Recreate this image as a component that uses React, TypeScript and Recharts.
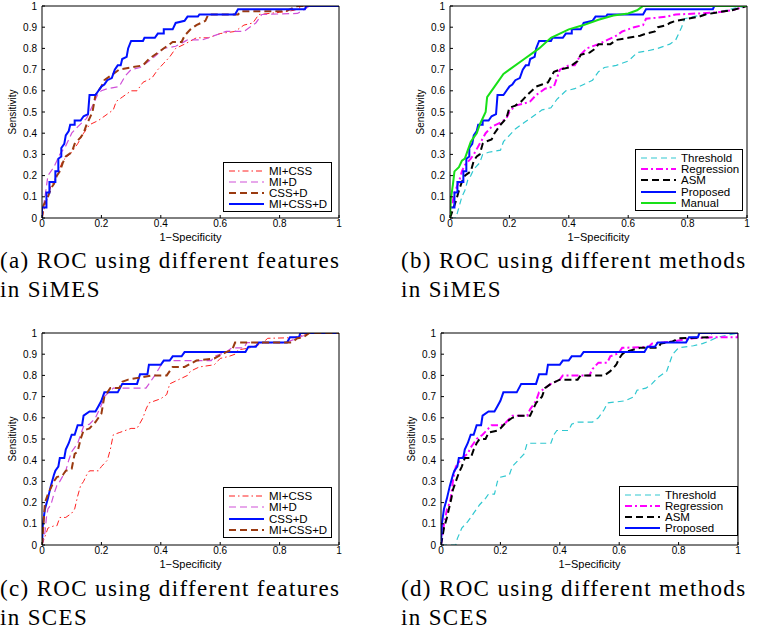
import { LineChart, Line, XAxis, YAxis, Legend } from 'recharts';

// ROC curves, as [1-specificity, sensitivity] vertices
const xTicks = [0, 0.2, 0.4, 0.6, 0.8, 1];
const yTicks = [0, 0.1, 0.2, 0.3, 0.4, 0.5, 0.6, 0.7, 0.8, 0.9, 1];

// (a) / (b) SiMES
const simesProposed = [[0,0],[0,0.05],[0.015,0.05],[0.015,0.12],[0.025,0.12],[0.025,0.17],[0.045,0.17],[0.045,0.22],[0.055,0.22],[0.055,0.28],[0.065,0.29],[0.065,0.33],[0.075,0.35],[0.08,0.39],[0.09,0.41],[0.095,0.44],[0.11,0.44],[0.11,0.46],[0.13,0.46],[0.14,0.48],[0.155,0.49],[0.16,0.58],[0.18,0.58],[0.19,0.6],[0.2,0.62],[0.21,0.63],[0.22,0.65],[0.235,0.66],[0.245,0.7],[0.255,0.72],[0.265,0.72],[0.27,0.75],[0.285,0.76],[0.29,0.8],[0.3,0.835],[0.34,0.835],[0.345,0.85],[0.38,0.85],[0.39,0.87],[0.41,0.87],[0.41,0.89],[0.44,0.89],[0.45,0.92],[0.48,0.93],[0.49,0.95],[0.525,0.95],[0.53,0.96],[0.65,0.96],[0.66,0.985],[0.885,0.985],[0.89,1],[1,1]];
const simesCssD = [[0,0],[0.005,0.06],[0.02,0.1],[0.03,0.14],[0.04,0.16],[0.05,0.2],[0.06,0.22],[0.07,0.26],[0.08,0.29],[0.1,0.31],[0.11,0.35],[0.13,0.38],[0.14,0.4],[0.15,0.44],[0.17,0.5],[0.18,0.58],[0.2,0.62],[0.21,0.65],[0.23,0.67],[0.26,0.7],[0.3,0.71],[0.34,0.72],[0.36,0.75],[0.4,0.79],[0.44,0.83],[0.47,0.83],[0.48,0.86],[0.5,0.89],[0.52,0.91],[0.55,0.93],[0.56,0.96],[0.66,0.96],[0.67,0.975],[0.82,0.975],[0.86,1],[1,1]];
const simesMiD = [[0,0],[0.01,0.1],[0.02,0.2],[0.04,0.24],[0.05,0.27],[0.06,0.3],[0.08,0.34],[0.1,0.4],[0.12,0.43],[0.15,0.47],[0.17,0.53],[0.19,0.59],[0.2,0.6],[0.22,0.61],[0.26,0.62],[0.28,0.67],[0.3,0.7],[0.33,0.71],[0.37,0.75],[0.41,0.8],[0.45,0.81],[0.49,0.84],[0.54,0.84],[0.58,0.86],[0.62,0.88],[0.68,0.88],[0.72,0.92],[0.74,0.96],[0.86,0.965],[0.88,0.98],[0.9,1],[1,1]];
const simesMiCss = [[0,0],[0.01,0.06],[0.02,0.1],[0.03,0.15],[0.05,0.2],[0.07,0.27],[0.1,0.31],[0.12,0.35],[0.14,0.4],[0.16,0.44],[0.19,0.46],[0.22,0.49],[0.24,0.51],[0.25,0.55],[0.27,0.57],[0.3,0.6],[0.32,0.6],[0.34,0.64],[0.37,0.66],[0.39,0.7],[0.41,0.73],[0.43,0.76],[0.45,0.8],[0.48,0.82],[0.52,0.85],[0.56,0.85],[0.6,0.87],[0.65,0.88],[0.68,0.91],[0.71,0.92],[0.73,0.96],[0.8,0.97],[0.85,0.98],[0.88,1],[1,1]];
const simesManual = [[0,0],[0.003,0.09],[0.01,0.16],[0.015,0.22],[0.03,0.24],[0.04,0.27],[0.05,0.28],[0.06,0.32],[0.07,0.36],[0.08,0.38],[0.09,0.4],[0.1,0.44],[0.12,0.5],[0.125,0.57],[0.15,0.62],[0.18,0.68],[0.2,0.7],[0.25,0.75],[0.28,0.78],[0.3,0.8],[0.34,0.85],[0.4,0.89],[0.45,0.91],[0.5,0.935],[0.55,0.955],[0.6,0.965],[0.63,0.98],[0.64,0.99],[0.65,1],[1,1]];
const simesRegression = [[0,0],[0.005,0.05],[0.015,0.12],[0.03,0.17],[0.04,0.22],[0.05,0.25],[0.07,0.28],[0.08,0.3],[0.1,0.35],[0.12,0.4],[0.14,0.43],[0.17,0.45],[0.19,0.47],[0.2,0.5],[0.22,0.53],[0.25,0.54],[0.27,0.55],[0.29,0.58],[0.32,0.61],[0.35,0.62],[0.36,0.66],[0.37,0.7],[0.4,0.72],[0.42,0.72],[0.44,0.77],[0.46,0.8],[0.5,0.82],[0.53,0.84],[0.56,0.86],[0.58,0.88],[0.62,0.9],[0.65,0.91],[0.66,0.94],[0.7,0.945],[0.73,0.95],[0.76,0.96],[0.84,0.965],[0.9,0.97],[0.95,0.98],[1,1]];
const simesAsm = [[0,0],[0.01,0.04],[0.02,0.08],[0.03,0.13],[0.04,0.17],[0.05,0.2],[0.07,0.22],[0.08,0.27],[0.09,0.29],[0.1,0.3],[0.11,0.35],[0.12,0.36],[0.14,0.37],[0.15,0.4],[0.17,0.44],[0.19,0.47],[0.2,0.52],[0.22,0.53],[0.24,0.55],[0.26,0.58],[0.29,0.62],[0.31,0.63],[0.33,0.64],[0.35,0.69],[0.37,0.7],[0.4,0.71],[0.43,0.74],[0.44,0.77],[0.47,0.78],[0.49,0.8],[0.5,0.82],[0.54,0.82],[0.56,0.84],[0.6,0.85],[0.64,0.86],[0.66,0.87],[0.69,0.88],[0.7,0.9],[0.73,0.91],[0.74,0.92],[0.76,0.93],[0.8,0.94],[0.84,0.95],[0.86,0.96],[0.9,0.97],[0.95,0.98],[1,1]];
const simesThreshold = [[0,0],[0.02,0],[0.03,0.05],[0.04,0.1],[0.05,0.13],[0.06,0.18],[0.07,0.2],[0.08,0.23],[0.1,0.26],[0.11,0.3],[0.13,0.31],[0.17,0.32],[0.18,0.36],[0.2,0.39],[0.22,0.42],[0.25,0.45],[0.28,0.48],[0.31,0.51],[0.34,0.52],[0.36,0.56],[0.39,0.6],[0.42,0.61],[0.45,0.63],[0.48,0.65],[0.5,0.69],[0.52,0.71],[0.56,0.72],[0.6,0.74],[0.63,0.78],[0.67,0.79],[0.7,0.8],[0.74,0.82],[0.76,0.84],[0.77,0.87],[0.78,0.9],[0.79,0.94],[0.82,0.95],[0.86,0.96],[0.9,0.97],[0.96,0.99],[1,1]];

// (c) / (d) SCES
const scesProposed = [[0,0],[0.003,0.1],[0.01,0.17],[0.02,0.22],[0.03,0.28],[0.04,0.33],[0.045,0.35],[0.055,0.37],[0.06,0.41],[0.075,0.41],[0.08,0.45],[0.09,0.48],[0.1,0.52],[0.11,0.52],[0.12,0.565],[0.135,0.565],[0.14,0.61],[0.16,0.63],[0.18,0.63],[0.19,0.655],[0.2,0.68],[0.21,0.72],[0.255,0.72],[0.27,0.76],[0.32,0.76],[0.33,0.805],[0.355,0.805],[0.36,0.85],[0.4,0.85],[0.41,0.87],[0.43,0.87],[0.44,0.89],[0.47,0.89],[0.48,0.91],[0.685,0.91],[0.695,0.935],[0.72,0.935],[0.73,0.955],[0.825,0.955],[0.835,0.98],[0.865,0.98],[0.87,1],[1,1]];
const scesMiCssD = [[0,0],[0.005,0.1],[0.01,0.2],[0.02,0.24],[0.03,0.27],[0.04,0.3],[0.05,0.32],[0.07,0.33],[0.08,0.35],[0.1,0.36],[0.11,0.43],[0.12,0.44],[0.13,0.5],[0.14,0.54],[0.16,0.55],[0.18,0.58],[0.19,0.6],[0.2,0.62],[0.21,0.7],[0.23,0.74],[0.26,0.74],[0.27,0.77],[0.29,0.78],[0.33,0.79],[0.37,0.8],[0.42,0.8],[0.44,0.84],[0.48,0.84],[0.52,0.87],[0.58,0.88],[0.62,0.91],[0.64,0.92],[0.65,0.955],[0.84,0.955],[0.86,0.975],[0.88,0.98],[0.9,1],[1,1]];
const scesMiD = [[0,0],[0.01,0.06],[0.015,0.13],[0.02,0.17],[0.03,0.19],[0.04,0.24],[0.05,0.28],[0.06,0.3],[0.08,0.35],[0.09,0.4],[0.1,0.44],[0.12,0.48],[0.13,0.52],[0.14,0.56],[0.16,0.57],[0.18,0.6],[0.2,0.66],[0.21,0.7],[0.24,0.74],[0.35,0.74],[0.38,0.8],[0.41,0.87],[0.57,0.87],[0.58,0.89],[0.62,0.91],[0.64,0.93],[0.68,0.93],[0.69,0.955],[0.82,0.955],[0.86,0.975],[0.9,1],[1,1]];
const scesMiCss = [[0,0],[0.01,0.04],[0.02,0.08],[0.04,0.09],[0.05,0.09],[0.06,0.13],[0.08,0.13],[0.1,0.15],[0.11,0.17],[0.12,0.23],[0.13,0.28],[0.14,0.3],[0.15,0.33],[0.16,0.35],[0.19,0.35],[0.2,0.37],[0.22,0.4],[0.23,0.45],[0.24,0.52],[0.26,0.53],[0.3,0.55],[0.32,0.55],[0.34,0.6],[0.35,0.64],[0.36,0.67],[0.4,0.69],[0.42,0.71],[0.43,0.76],[0.46,0.78],[0.49,0.8],[0.5,0.82],[0.53,0.84],[0.58,0.85],[0.6,0.88],[0.63,0.89],[0.65,0.9],[0.66,0.92],[0.7,0.93],[0.74,0.95],[0.76,0.975],[0.85,0.978],[0.9,1],[1,1]];
const scesRegression = [[0,0],[0.01,0.1],[0.015,0.13],[0.02,0.17],[0.03,0.2],[0.035,0.24],[0.04,0.3],[0.05,0.37],[0.06,0.39],[0.07,0.41],[0.09,0.43],[0.1,0.46],[0.11,0.48],[0.12,0.5],[0.14,0.52],[0.16,0.55],[0.17,0.565],[0.21,0.565],[0.22,0.58],[0.24,0.61],[0.29,0.61],[0.3,0.64],[0.32,0.68],[0.33,0.72],[0.35,0.74],[0.37,0.76],[0.4,0.78],[0.41,0.8],[0.5,0.8],[0.51,0.83],[0.53,0.86],[0.56,0.86],[0.57,0.89],[0.59,0.9],[0.6,0.91],[0.61,0.93],[0.7,0.935],[0.71,0.95],[0.78,0.96],[0.82,0.97],[0.85,0.975],[0.92,0.98],[1,0.98],[1,1]];
const scesAsm = [[0,0],[0.01,0.08],[0.02,0.13],[0.03,0.19],[0.035,0.22],[0.04,0.26],[0.05,0.3],[0.06,0.34],[0.07,0.37],[0.08,0.41],[0.1,0.41],[0.11,0.45],[0.12,0.48],[0.13,0.5],[0.15,0.5],[0.16,0.53],[0.19,0.54],[0.2,0.55],[0.22,0.58],[0.24,0.6],[0.26,0.61],[0.3,0.61],[0.31,0.64],[0.32,0.67],[0.34,0.7],[0.35,0.74],[0.37,0.76],[0.4,0.78],[0.46,0.78],[0.47,0.8],[0.55,0.8],[0.57,0.82],[0.59,0.85],[0.6,0.88],[0.61,0.9],[0.62,0.91],[0.67,0.93],[0.73,0.93],[0.74,0.95],[0.78,0.96],[0.8,0.975],[0.9,0.98],[0.91,1],[1,1]];
const scesThreshold = [[0,0],[0.05,0],[0.055,0.03],[0.07,0.08],[0.09,0.11],[0.11,0.15],[0.13,0.19],[0.15,0.22],[0.16,0.24],[0.18,0.24],[0.19,0.3],[0.2,0.32],[0.23,0.33],[0.24,0.37],[0.26,0.4],[0.28,0.43],[0.29,0.48],[0.37,0.48],[0.38,0.52],[0.39,0.54],[0.43,0.54],[0.44,0.57],[0.46,0.58],[0.51,0.58],[0.53,0.6],[0.55,0.64],[0.56,0.67],[0.62,0.68],[0.65,0.7],[0.66,0.73],[0.69,0.74],[0.71,0.76],[0.73,0.79],[0.76,0.82],[0.77,0.86],[0.78,0.9],[0.8,0.93],[0.85,0.94],[0.88,0.95],[0.9,0.96],[0.93,0.98],[1,1]];

interface Series {
  name: string;
  pts: number[][];
  color: string;
  width: number;
  dash?: string;
}

const FONT = '"Liberation Sans", Arial, Helvetica, sans-serif';
const SERIF = '"Liberation Serif", "Times New Roman", serif';

const panelA: Series[] = [
  { name: 'MI+CSS', pts: simesMiCss, color: '#ff2020', width: 1, dash: '6 3 1.5 3' },
  { name: 'MI+D', pts: simesMiD, color: '#d050d8', width: 1.2, dash: '7 4' },
  { name: 'CSS+D', pts: simesCssD, color: '#9a3a10', width: 2, dash: '7 4' },
  { name: 'MI+CSS+D', pts: simesProposed, color: '#0010ff', width: 2 },
];
const panelB: Series[] = [
  { name: 'Threshold', pts: simesThreshold, color: '#30c8d0', width: 1.2, dash: '6 4' },
  { name: 'Regression', pts: simesRegression, color: '#ff00ff', width: 2, dash: '7 3 2 3' },
  { name: 'ASM', pts: simesAsm, color: '#000000', width: 2, dash: '7 4' },
  { name: 'Proposed', pts: simesProposed, color: '#0010ff', width: 2 },
  { name: 'Manual', pts: simesManual, color: '#18e018', width: 2 },
];
const panelC: Series[] = [
  { name: 'MI+CSS', pts: scesMiCss, color: '#ff2020', width: 1, dash: '6 3 1.5 3' },
  { name: 'MI+D', pts: scesMiD, color: '#d050d8', width: 1.2, dash: '7 4' },
  { name: 'CSS+D', pts: scesProposed, color: '#0010ff', width: 2 },
  { name: 'MI+CSS+D', pts: scesMiCssD, color: '#9a3a10', width: 2, dash: '7 4' },
];
const panelD: Series[] = [
  { name: 'Threshold', pts: scesThreshold, color: '#30c8d0', width: 1.2, dash: '6 4' },
  { name: 'Regression', pts: scesRegression, color: '#ff00ff', width: 2, dash: '7 3 2 3' },
  { name: 'ASM', pts: scesAsm, color: '#000000', width: 2, dash: '7 4' },
  { name: 'Proposed', pts: scesProposed, color: '#0010ff', width: 2 },
];

const toPts = (a: number[][]) => a.map(([x, y]) => ({ x, y }));

const PW = 297;
const PH = 212;

const RocPanel = ({ left, top, series, legend }: {
  left: number; top: number; series: Series[];
  legend: { x: number; y: number; w: number; h: number };
}) => {
  const renderLegend = () => (
    <div style={{
      width: legend.w, height: legend.h, boxSizing: 'border-box', border: '1px solid #000',
      background: '#fff', paddingTop: 2, fontFamily: FONT, fontSize: 11.5, color: '#000', textAlign: 'left',
    }}>
      {series.map((s) => (
        <div key={s.name} style={{ display: 'flex', alignItems: 'center', height: (legend.h - 5) / series.length, whiteSpace: 'nowrap' }}>
          <svg width={45} height={8} style={{ flex: 'none' }}>
            <line x1={5} y1={4} x2={40} y2={4} stroke={s.color} strokeWidth={s.width} strokeDasharray={s.dash} />
          </svg>
          <span>{s.name}</span>
        </div>
      ))}
    </div>
  );

  return (
    <div style={{ position: 'absolute', left, top }}>
      <LineChart width={42 + PW + 7} height={6 + PH + 28} margin={{ top: 5, right: 6, left: 0, bottom: 0 }}>
        <XAxis
          dataKey="x" type="number" domain={[0, 1]} ticks={xTicks} allowDataOverflow
          height={28} tickSize={-3} tickMargin={5} stroke="#000"
          tick={{ fontSize: 10, fill: '#000', fontFamily: FONT }}
          label={{ value: '1\u2212Specificity', position: 'insideBottom', offset: 5, style: { fontSize: 11, fill: '#000', fontFamily: FONT } }}
        />
        <XAxis xAxisId="top" orientation="top" type="number" domain={[0, 1]} ticks={xTicks} height={1} tickSize={-3} tick={false} stroke="#000" />
        <YAxis
          type="number" domain={[0, 1]} ticks={yTicks} allowDataOverflow
          width={42} tickSize={-3} tickMargin={8} stroke="#000"
          tick={{ fontSize: 10, fill: '#000', fontFamily: FONT }}
          label={{ value: 'Sensitivity', angle: -90, position: 'insideLeft', offset: 12, style: { fontSize: 10, fill: '#000', fontFamily: FONT, textAnchor: 'middle' } }}
        />
        <YAxis yAxisId="right" orientation="right" type="number" domain={[0, 1]} ticks={yTicks} width={1} tickSize={-3} tick={false} stroke="#000" />
        {series.map((s) => (
          <Line
            key={s.name} data={toPts(s.pts)} dataKey="y" name={s.name} type="linear"
            stroke={s.color} strokeWidth={s.width} strokeDasharray={s.dash}
            dot={false} activeDot={false} isAnimationActive={false}
          />
        ))}
        <Legend
          layout="vertical" align="center" verticalAlign="middle" content={renderLegend}
          wrapperStyle={{ left: legend.x, top: legend.y, width: legend.w, height: legend.h }}
        />
      </LineChart>
    </div>
  );
};

const Caption = ({ left, top, lines }: { left: number; top: number; lines: string[] }) => (
  <div style={{
    position: 'absolute', left, top, fontFamily: SERIF, fontSize: 23, lineHeight: '29px',
    letterSpacing: 1.35, color: '#000', whiteSpace: 'nowrap',
  }}>
    {lines.map((l) => <div key={l}>{l}</div>)}
  </div>
);

export default function App() {
  return (
    <div style={{ position: 'absolute', left: 0, top: 0, width: 761, height: 634, background: '#fff', overflow: 'hidden' }}>
      <RocPanel left={0} top={0} series={panelA} legend={{ x: 223, y: 162, w: 109, h: 50 }} />
      <RocPanel left={408} top={0} series={panelB} legend={{ x: 227, y: 149, w: 108, h: 62 }} />
      <RocPanel left={0} top={327} series={panelC} legend={{ x: 223, y: 160, w: 109, h: 51 }} />
      <RocPanel left={399} top={327} series={panelD} legend={{ x: 220, y: 159, w: 119, h: 50 }} />
      <Caption left={0} top={246} lines={['(a) ROC using different features', 'in SiMES']} />
      <Caption left={401} top={246} lines={['(b) ROC using different methods', 'in SiMES']} />
      <Caption left={0} top={574} lines={['(c) ROC using different features', 'in SCES']} />
      <Caption left={401} top={574} lines={['(d) ROC using different methods', 'in SCES']} />
    </div>
  );
}
